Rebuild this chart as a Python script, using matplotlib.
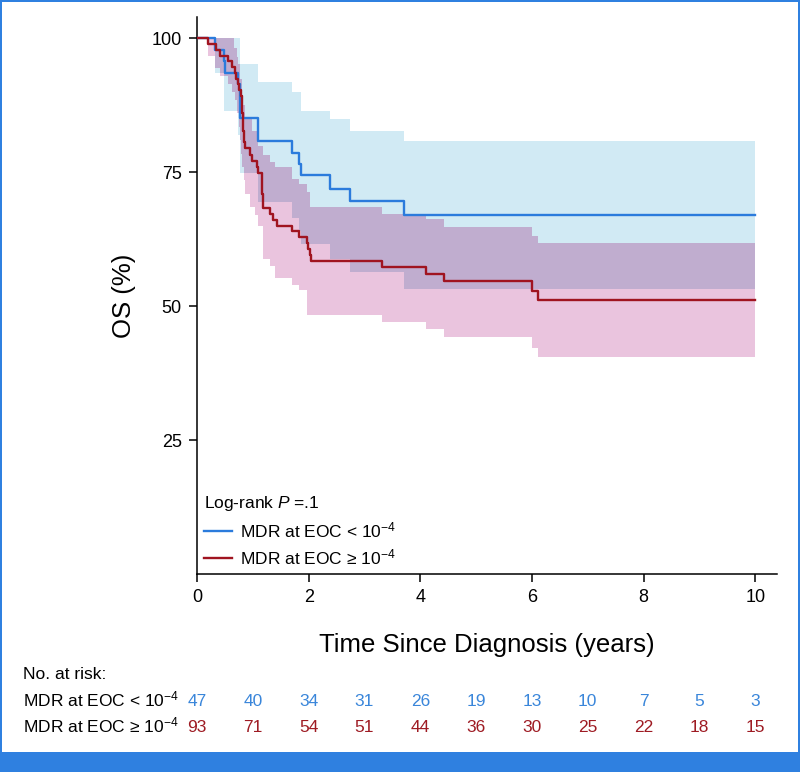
import numpy as np
import matplotlib
matplotlib.use("Agg")
import matplotlib.pyplot as plt
import matplotlib.transforms as mtransforms
from matplotlib.lines import Line2D
from matplotlib.patches import Rectangle

plt.rcParams['font.family'] = ['Liberation Sans', 'DejaVu Sans']
plt.rcParams['mathtext.fontset'] = 'custom'
plt.rcParams['mathtext.rm'] = 'Liberation Sans'
plt.rcParams['mathtext.it'] = 'Liberation Sans:italic'
plt.rcParams['mathtext.default'] = 'regular'

# Kaplan-Meier curves (years, OS %)
blue_t = [0, 0.32, 0.49, 0.51, 0.73, 0.77, 1.10, 1.70, 1.82, 1.86, 2.38, 2.74, 3.71, 10]
blue_s = [100, 97.9, 95.7, 93.6, 91.5, 85.1, 80.9, 78.7, 76.6, 74.5, 71.8, 69.6, 67.0, 67.0]

red_t = [0, 0.19, 0.335, 0.41, 0.56, 0.63, 0.68, 0.70, 0.73, 0.75, 0.78, 0.80, 0.81, 0.82,
         0.83, 0.85, 0.86, 0.95, 0.98, 1.07, 1.10, 1.16, 1.17, 1.19, 1.31, 1.37, 1.43,
         1.71, 1.83, 1.97, 1.99, 2.02, 2.04, 3.32, 4.10, 4.43, 6.00, 6.10, 10]
red_s = [100, 98.9, 97.8, 96.8, 95.7, 94.6, 93.5, 92.5, 91.4, 90.3, 89.2, 88.2, 86.0, 84.9,
         82.8, 80.6, 79.5, 78.2, 77.1, 76.0, 74.9, 73.8, 71.0, 68.4, 67.3, 66.1, 65.0,
         64.0, 62.9, 61.8, 60.7, 59.5, 58.4, 57.3, 56.0, 54.7, 52.9, 51.1, 51.1]

# confidence bands
blue_hi_t = [0, 0.77, 1.10, 1.70, 1.86, 2.38, 2.74, 3.71, 10]
blue_hi = [100, 95.2, 91.8, 90.0, 86.5, 84.9, 82.8, 80.8, 80.8]
blue_lo_t = [0, 0.32, 0.49, 0.73, 0.77, 1.10, 1.70, 1.82, 1.86, 2.38, 2.74, 3.71, 10]
blue_lo = [100, 93.6, 86.5, 82.0, 74.8, 69.4, 66.5, 64.0, 61.6, 58.9, 56.4, 53.3, 53.3]

red_hi_t = [0, 0.66, 0.71, 0.74, 0.77, 0.80, 0.83, 0.86, 0.98, 1.10, 1.19, 1.31, 1.40,
            1.71, 1.82, 1.97, 2.03, 3.32, 4.10, 4.43, 6.00, 6.10, 10]
red_hi = [100, 98.3, 96.5, 95.2, 92.4, 89.0, 87.5, 85.2, 82.7, 80.0, 78.2, 76.9, 76.0,
          73.8, 72.9, 71.3, 68.5, 67.3, 66.2, 64.8, 63.2, 61.8, 61.8]
red_lo_t = [0, 0.19, 0.32, 0.41, 0.56, 0.63, 0.68, 0.72, 0.75, 0.77, 0.79, 0.81, 0.84,
            0.86, 0.95, 1.04, 1.10, 1.19, 1.31, 1.40, 1.71, 1.82, 1.97, 3.32, 4.10,
            4.43, 6.00, 6.10, 10]
red_lo = [100, 96.7, 94.5, 93.0, 91.5, 90.0, 88.5, 86.0, 83.5, 81.0, 78.5, 76.0, 73.5,
          71.0, 68.5, 67.0, 64.9, 58.9, 57.6, 55.3, 54.0, 53.0, 48.3, 47.1, 45.7,
          44.3, 42.2, 40.5, 40.5]

# number at risk
risk_times = [0, 1, 2, 3, 4, 5, 6, 7, 8, 9, 10]
risk_blue = [47, 40, 34, 31, 26, 19, 13, 10, 7, 5, 3]
risk_red = [93, 71, 54, 51, 44, 36, 30, 25, 22, 18, 15]

label_blue = r'MDR at EOC < 10$^{-4}$'
label_red = r'MDR at EOC ≥ 10$^{-4}$'

BLUE = '#2B7BDC'
RED = '#A01420'
BLUE_BAND = '#D1EAF4'
RED_BAND = '#EAC4DE'
OVERLAP = '#C0ADCF'
FRAME = '#2F80E0'
TXT_BLUE = '#3A86DA'
TXT_RED = '#9E1B23'


def step_at(t, s, grid):
    idx = np.searchsorted(np.asarray(t), grid, side='right') - 1
    return np.asarray(s, dtype=float)[idx]


W, H = 800, 772
fig = plt.figure(figsize=(W / 100, H / 100), dpi=100)
ax = fig.add_axes([197 / W, 1 - 574 / H, 580 / W, 557 / H])

# bands on a common time grid
grid = np.unique(np.concatenate([blue_hi_t, blue_lo_t, red_hi_t, red_lo_t]))
bl = step_at(blue_lo_t, blue_lo, grid)
bh = step_at(blue_hi_t, blue_hi, grid)
rl = step_at(red_lo_t, red_lo, grid)
rh = step_at(red_hi_t, red_hi, grid)
ax.fill_between(grid, bl, bh, step='post', color=BLUE_BAND, lw=0, zorder=1)
ax.fill_between(grid, rl, rh, step='post', color=RED_BAND, lw=0, zorder=2)
lo = np.maximum(bl, rl)
hi = np.maximum(np.minimum(bh, rh), lo)
ax.fill_between(grid, lo, hi, step='post', color=OVERLAP, lw=0, zorder=3)

# curves
ax.step(blue_t, blue_s, where='post', color=BLUE, lw=1.7, zorder=4)
ax.step(red_t, red_s, where='post', color=RED, lw=1.7, zorder=5)

ax.set_xlim(0, 10.39)
ax.set_ylim(0, 104)
ax.set_xticks(range(0, 11, 2))
ax.set_yticks([25, 50, 75, 100])
for side in ['top', 'right']:
    ax.spines[side].set_visible(False)
for side in ['left', 'bottom']:
    ax.spines[side].set_linewidth(1.1)
ax.tick_params(axis='both', direction='out', length=5.5, width=1.1,
               labelsize=13, pad=5.5)

handles = [Line2D([], [], color=BLUE, lw=1.7), Line2D([], [], color=RED, lw=1.7)]
leg = ax.legend(handles, [label_blue, label_red], title=r'Log-rank $\mathit{P}$ =.1',
                loc='lower left', frameon=False, fontsize=12.5, title_fontsize=12.5,
                handlelength=1.6, handletextpad=0.5, borderaxespad=0.0,
                alignment='left', labelspacing=0.4)

# axis titles
fig.text(487 / W, 1 - 652 / H, 'Time Since Diagnosis (years)', ha='center',
         va='baseline', fontsize=18.5)
fig.text(124 / W, 1 - 296 / H, 'OS (%)', ha='center', va='center', rotation=90,
         fontsize=18.5)

# risk table
tr = mtransforms.blended_transform_factory(ax.transData, fig.transFigure)
fig.text(23 / W, 1 - 679 / H, 'No. at risk:', ha='left', va='baseline', fontsize=12.5)
fig.text(23 / W, 1 - 706 / H, label_blue, ha='left', va='baseline', fontsize=12.5)
fig.text(23 / W, 1 - 732 / H, label_red, ha='left', va='baseline', fontsize=12.5)
for t, nb, nr in zip(risk_times, risk_blue, risk_red):
    fig.text(t, 1 - 706 / H, str(nb), transform=tr, ha='center', va='baseline',
             fontsize=12.5, color=TXT_BLUE)
    fig.text(t, 1 - 732 / H, str(nr), transform=tr, ha='center', va='baseline',
             fontsize=12.5, color=TXT_RED)

# blue frame
fig.patches.append(Rectangle((0, 0), 1, 20 / H, transform=fig.transFigure,
                             color=FRAME, lw=0))
fig.patches.append(Rectangle((0, 0), 2 / W, 1, transform=fig.transFigure,
                             color=FRAME, lw=0))
fig.patches.append(Rectangle((1 - 2 / W, 0), 2 / W, 1, transform=fig.transFigure,
                             color=FRAME, lw=0))
fig.patches.append(Rectangle((0, 1 - 2 / H), 1, 2 / H, transform=fig.transFigure,
                             color=FRAME, lw=0))

fig.savefig('out.png', dpi=100)
